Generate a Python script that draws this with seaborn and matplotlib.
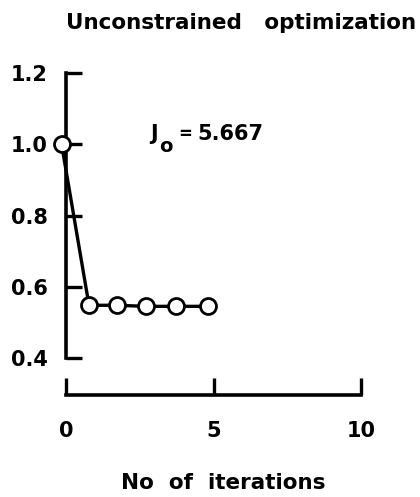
import matplotlib
matplotlib.use("Agg")
import matplotlib.pyplot as plt
import seaborn as sns
import pandas as pd

# data
iterations = [-0.15, 0.78, 1.73, 2.71, 3.73, 4.8]
cost_ratio = [1.0, 0.548, 0.548, 0.545, 0.545, 0.545]
x_ticks = [0, 5, 10]
y_ticks = [0.4, 0.6, 0.8, 1.0, 1.2]
title_text = "Unconstrained   optimization"
xlabel_text = "No  of  iterations"
annot_main = "J"
annot_sub = "o"
annot_eq = "="
annot_value = "5.667"

sns.set_theme(style="ticks")
plt.rcParams["font.family"] = ["DejaVu Sans"]
plt.rcParams["font.weight"] = "bold"

W, H = 420, 497
fig = plt.figure(figsize=(W / 100, H / 100), dpi=100)
fig.patch.set_facecolor("white")
ax = fig.add_axes([66 / W, 1 - 358 / H, 295 / W, 285 / H])
ax.set_facecolor("white")

df = pd.DataFrame({"it": iterations, "J": cost_ratio})
sns.lineplot(data=df, x="it", y="J", ax=ax, sort=False, color="black",
             linewidth=2.4, marker="o", markersize=11.5,
             markerfacecolor="white", markeredgecolor="black",
             markeredgewidth=2.0, clip_on=False, zorder=5)

ax.set_xlim(0, 10)
ax.set_ylim(0.4, 1.2)
ax.set_xticks(x_ticks)
ax.set_xticklabels([str(t) for t in x_ticks])
ax.set_yticks(y_ticks)
ax.set_yticklabels([f"{t:.1f}" for t in y_ticks])

for s in ["top", "right"]:
    ax.spines[s].set_visible(False)
for s in ["left", "bottom"]:
    ax.spines[s].set_linewidth(2.6)
    ax.spines[s].set_color("black")
ax.spines["bottom"].set_position(("outward", 26.6))
ax.spines["bottom"].set_bounds(0, 10)
ax.spines["left"].set_bounds(0.4, 1.2)

ax.tick_params(axis="x", direction="in", length=12, width=2.4, color="black",
               pad=19, labelsize=15, labelcolor="black")
ax.tick_params(axis="y", direction="in", length=11.5, width=2.4, color="black",
               pad=13, labelsize=15, labelcolor="black")
for lab in ax.get_xticklabels() + ax.get_yticklabels():
    lab.set_fontweight("bold")

ax.set_xlabel("")
ax.set_ylabel("")
fig.text(223 / W, 1 - 489 / H, xlabel_text, ha="center", va="baseline",
         fontsize=15.5, fontweight="bold", color="black")
fig.text(241 / W, 1 - 29 / H, title_text, ha="center", va="baseline",
         fontsize=15.5, fontweight="bold", color="black")

# J_o annotation, built from text pieces
anchor = (2.85, 1.012)
common = dict(xy=anchor, textcoords="offset pixels", ha="left", va="baseline",
              fontweight="bold", color="black")
ax.annotate(annot_main, xytext=(0, 0), fontsize=15, **common)
ax.annotate(annot_sub, xytext=(9, -12), fontsize=14, **common)
ax.annotate(annot_eq, xytext=(28, 1), fontsize=12, **common)
ax.annotate(annot_value, xytext=(47, 0), fontsize=15, **common)

fig.savefig("out.png", dpi=100, facecolor="white")
